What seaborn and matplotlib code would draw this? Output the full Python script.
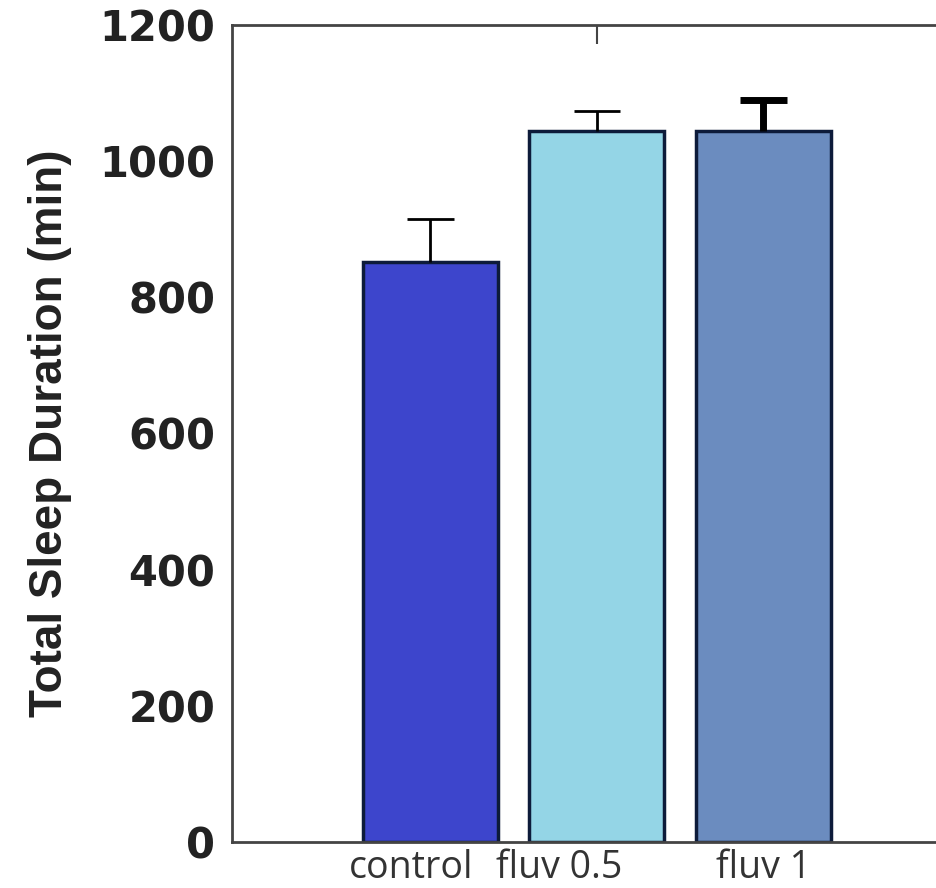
import numpy as np
import pandas as pd
import seaborn as sns
import matplotlib.pyplot as plt
import matplotlib.transforms as mtransforms

# Data
groups = ["control", "fluv 0.5", "fluv 1"]
sleep_min = [852, 1044, 1044]
sem_up = [63, 29, 46]
bar_colors = ["#3d45cc", "#94d5e6", "#6b8cbf"]
err_widths = [2, 2, 5]

df = pd.DataFrame({"group": groups, "sleep": sleep_min})

sns.set_style("white")
fig = plt.figure(figsize=(9.36, 8.88), dpi=100)
# axes runs past the right edge of the picture, as in the reference
ax = fig.add_axes([232 / 936, 1 - 842 / 888, (1100 - 232) / 936, (842 - 25) / 888])

sns.barplot(data=df, x="group", y="sleep", hue="group", palette=bar_colors,
            errorbar=None, width=0.81, saturation=1, edgecolor="#0d1b3a",
            linewidth=2.5, legend=False, ax=ax)

# one-sided (upper) error bars
xs = np.arange(len(groups))
tops = np.array(sleep_min) + np.array(sem_up)
ax.vlines(xs, sleep_min, tops, colors="black", linewidths=err_widths, zorder=3)
ax.hlines(tops, xs - 0.14, xs + 0.14, colors="black", linewidths=err_widths, zorder=3)

ax.set_xlim(-1.19, 4.02)
ax.set_ylim(0, 1200)
ax.set_yticks([0, 200, 400, 600, 800, 1000, 1200])
ax.tick_params(axis="y", direction="in", length=10, width=1.5, pad=12,
               labelsize=30, colors="#222222")
for lab in ax.get_yticklabels():
    lab.set_fontweight("bold")
    lab.set_family("DejaVu Sans")
ax.tick_params(axis="x", length=0, pad=5)
ax.set_xticks(xs)
ax.set_xticklabels(groups, fontsize=27, family="Open Sans", color="#333333")
# labels sit a bit left of their bars in the reference
shifts = [-19, -38, 0]
for lab, dx in zip(ax.get_xticklabels(), shifts):
    lab.set_transform(lab.get_transform() +
                      mtransforms.ScaledTranslation(dx / 100, 0, fig.dpi_scale_trans))

# single top tick over the middle bar
top = ax.secondary_xaxis("top")
top.set_xticks([1])
top.set_xticklabels([])
top.tick_params(direction="in", length=14, width=1.5, colors="#444444")
for s in top.spines.values():
    s.set_visible(False)

ax.set_xlabel("")
ax.set_ylabel("Total Sleep Duration (min)", fontsize=33,
              family=["Liberation Sans", "DejaVu Sans"], fontweight="bold",
              color="#222222", labelpad=20)

for s in ["left", "bottom", "top"]:
    ax.spines[s].set_visible(True)
    ax.spines[s].set_linewidth(2)
    ax.spines[s].set_color("#444444")
ax.spines["right"].set_visible(False)

fig.savefig("out.png", dpi=100)
